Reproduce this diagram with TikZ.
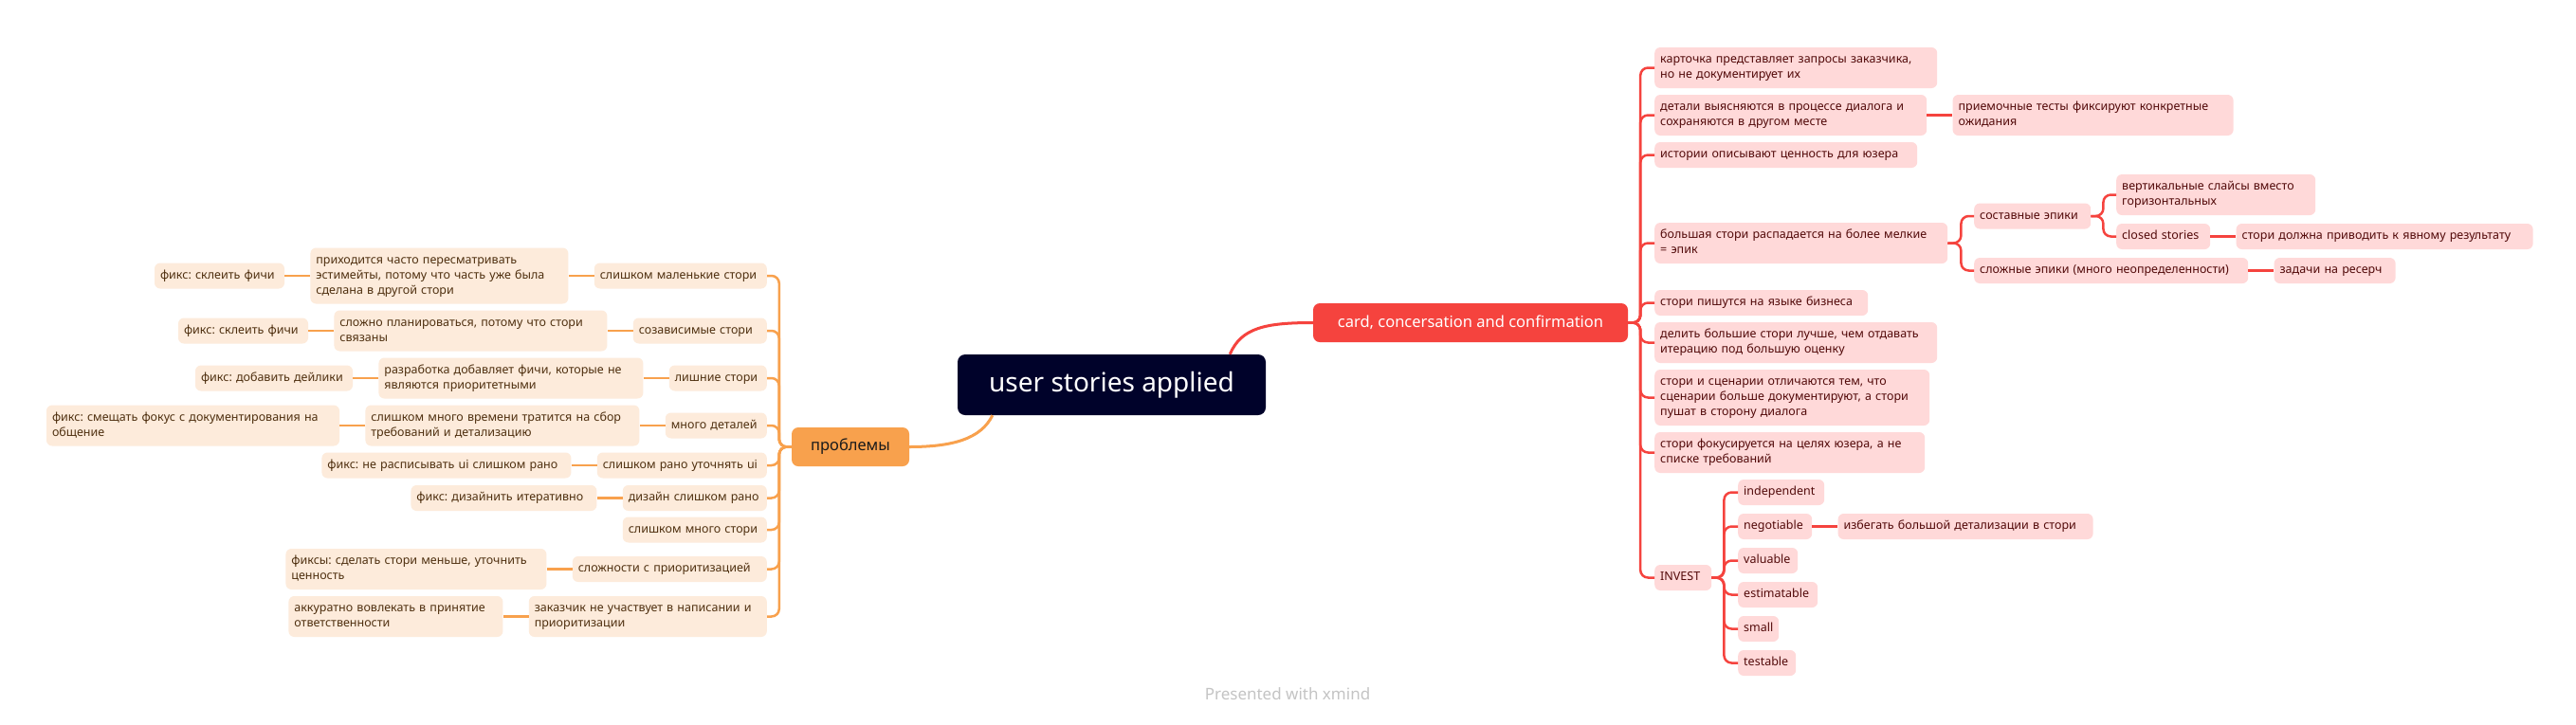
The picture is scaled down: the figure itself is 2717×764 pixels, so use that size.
\documentclass[tikz,border=0pt]{standalone}
\usepackage{fontspec}
\setmainfont{Noto Sans}
\usepackage{tikz}
\usetikzlibrary{positioning}
\frenchspacing
\definecolor{palNavy}{HTML}{00022A}
\definecolor{palRed}{HTML}{F5433E}
\definecolor{palRedLt}{HTML}{FFD9D9}
\definecolor{palRedTxt}{HTML}{520A0A}
\definecolor{palOrange}{HTML}{F8A14D}
\definecolor{palOrangeLt}{HTML}{FDEBDB}
\definecolor{palOrangeTxt}{HTML}{4F3010}
\definecolor{palInk}{HTML}{1B1B1B}
\definecolor{palFoot}{HTML}{C4C4C4}
\tikzset{
  topicnode/.style={rounded corners=6pt, inner xsep=6pt, inner ysep=5.5pt,
                    align=left, font=\fontsize{12.5}{16}\selectfont,
                    execute at begin node=\strut, execute at end node=\strut},
  cardleaf/.style={topicnode, fill=palRedLt, text=palRedTxt, text width=#1},
  probleaf/.style={topicnode, fill=palOrangeLt, text=palOrangeTxt, text width=#1},
  rootnode/.style={fill=palNavy, text=white, rounded corners=8pt,
                   minimum width=325pt, minimum height=64pt,
                   font=\fontsize{28}{34}\selectfont},
  branchnode/.style={rounded corners=7pt, minimum height=41pt,
                     font=\fontsize{16.5}{20}\selectfont},
  redlink/.style={draw=palRed, line width=2.5pt, rounded corners=8pt},
  orangelink/.style={draw=palOrange, line width=2.5pt, rounded corners=8pt},
}
\begin{document}
\begin{tikzpicture}[x=1pt, y=-1pt, node distance=27pt]
\useasboundingbox[fill=white] (0,0) rectangle (2717,764);
\def\xCard{1745}  % left edge of card topics
\def\xEpic{2082}  % left edge of epic topics
\def\xInv{1833}   % left edge of INVEST letters
\def\xProb{809}   % right edge of problem topics

%% Root and main branches
\node[rootnode] (root) at (1172.5,406) {user stories applied};
\node[branchnode, fill=palRed, text=white, minimum width=332pt] (card) at (1551,340.5) {card, concersation and confirmation};
\node[branchnode, fill=palOrange, text=palInk, minimum width=124pt] (prob) at (897,471.5) {проблемы};

%% Card branch
\node[cardleaf=286pt, anchor=west] (c1) at (\xCard,71.5) {карточка представляет запросы заказчика,\\но не документирует их};
\node[cardleaf=275pt, anchor=west] (c2) at (\xCard,121.5) {детали выясняются в процессе диалога и\\сохраняются в другом месте};
\node[cardleaf=284pt, right=of c2] (c2a) {приемочные тесты фиксируют конкретные\\ожидания};
\node[cardleaf=265pt, anchor=west] (c3) at (\xCard,163.5) {истории описывают ценность для юзера};
\node[cardleaf=297pt, anchor=west] (c4) at (\xCard,256.5) {большая стори распадается на более мелкие\\= эпик};
\node[cardleaf=111pt, anchor=west] (e1) at (\xEpic,228) {составные эпики};
\node[cardleaf=198pt, anchor=west] (e1a) at (2232,205.5) {вертикальные слайсы вместо\\горизонтальных};
\node[cardleaf=87pt, anchor=west] (e1b) at (2232,249.5) {closed stories};
\node[cardleaf=301pt, right=of e1b] (e1c) {стори должна приводить к явному результату};
\node[cardleaf=277pt, anchor=west] (e2) at (\xEpic,285.5) {сложные эпики (много неопределенности)};
\node[cardleaf=116pt, right=of e2] (e2a) {задачи на ресерч};
\node[cardleaf=213pt, anchor=west] (c5) at (\xCard,319.5) {стори пишутся на языке бизнеса};
\node[cardleaf=286pt, anchor=west] (c6) at (\xCard,361.5) {делить большие стори лучше, чем отдавать\\итерацию под большую оценку};
\node[cardleaf=278pt, anchor=west] (c7) at (\xCard,419.5) {стори и сценарии отличаются тем, что\\сценарии больше документируют, а стори\\пушат в сторону диалога};
\node[cardleaf=273pt, anchor=west] (c8) at (\xCard,477.5) {стори фокусируется на целях юзера, а не\\списке требований};
\node[cardleaf=48pt, anchor=west] (c9) at (\xCard,609.5) {INVEST};
\node[cardleaf=79pt, anchor=west] (i1) at (\xInv,519.5) {independent};
\node[cardleaf=66pt, anchor=west] (i2) at (\xInv,555.5) {negotiable};
\node[cardleaf=257pt, right=of i2] (i2a) {избегать большой детализации в стори};
\node[cardleaf=51pt, anchor=west] (i3) at (\xInv,591.5) {valuable};
\node[cardleaf=72pt, anchor=west] (i4) at (\xInv,627.5) {estimatable};
\node[cardleaf=31pt, anchor=west] (i5) at (\xInv,663.5) {small};
\node[cardleaf=49pt, anchor=west] (i6) at (\xInv,699.5) {testable};

%% Problems branch
\node[probleaf=170pt, anchor=east] (p1) at (\xProb,291) {слишком маленькие стори};
\node[probleaf=260pt, left=of p1] (p1a) {приходится часто пересматривать\\эстимейты, потому что часть уже была\\сделана в другой стори};
\node[probleaf=125pt, left=of p1a] (p1b) {фикс: склеить фичи};
\node[probleaf=129pt, anchor=east] (p2) at (\xProb,349) {созависимые стори};
\node[probleaf=276pt, left=of p2] (p2a) {сложно планироваться, потому что стори\\связаны};
\node[probleaf=125pt, left=of p2a] (p2b) {фикс: склеить фичи};
\node[probleaf=91pt, anchor=east] (p3) at (\xProb,399) {лишние стори};
\node[probleaf=267pt, left=of p3] (p3a) {разработка добавляет фичи, которые не\\являются приоритетными};
\node[probleaf=154pt, left=of p3a] (p3b) {фикс: добавить дейлики};
\node[probleaf=95pt, anchor=east] (p4) at (\xProb,449) {много деталей};
\node[probleaf=277pt, left=of p4] (p4a) {слишком много времени тратится на сбор\\требований и детализацию};
\node[probleaf=297pt, left=of p4a] (p4b) {фикс: смещать фокус с документирования на\\общение};
\node[probleaf=167pt, anchor=east] (p5) at (\xProb,491) {слишком рано уточнять ui};
\node[probleaf=251pt, left=of p5] (p5a) {фикс: не расписывать ui слишком рано};
\node[probleaf=140pt, anchor=east] (p6) at (\xProb,525.5) {дизайн слишком рано};
\node[probleaf=184pt, left=of p6] (p6a) {фикс: дизайнить итеративно};
\node[probleaf=140pt, anchor=east] (p7) at (\xProb,559) {слишком много стори};
\node[probleaf=193pt, anchor=east] (p8) at (\xProb,600.5) {сложности с приоритизацией};
\node[probleaf=263pt, left=of p8] (p8a) {фиксы: сделать стори меньше, уточнить\\ценность};
\node[probleaf=239pt, anchor=east] (p9) at (\xProb,650.5) {заказчик не участвует в написании и\\приоритизации};
\node[probleaf=214pt, left=of p9] (p9a) {аккуратно вовлекать в принятие\\ответственности};

%% Footer
\node[font=\fontsize{17}{20}\selectfont, text=palFoot] (credit) at (1358,732) {Presented with \textbf{xmind}};

%% Root links
\draw[palRed, line width=3pt] ([xshift=-38pt]root.north east) .. controls +(12,-28) and +(-50,0) .. (card.west);
\draw[palOrange, line width=3pt] ([xshift=37pt]root.south west) .. controls +(-12,25) and +(45,0) .. (prob.east);

%% Card links
\draw[redlink] (card.east) -- ++(13,0) |- (c1.west);
\draw[redlink] (card.east) -- ++(13,0) |- (c2.west);
\draw[redlink] (card.east) -- ++(13,0) |- (c3.west);
\draw[redlink] (card.east) -- ++(13,0) |- (c4.west);
\draw[redlink] (card.east) -- ++(13,0) |- (c5.west);
\draw[redlink] (card.east) -- ++(13,0) |- (c6.west);
\draw[redlink] (card.east) -- ++(13,0) |- (c7.west);
\draw[redlink] (card.east) -- ++(13,0) |- (c8.west);
\draw[redlink] (card.east) -- ++(13,0) |- (c9.west);
\draw[redlink] (c2.east) -- (c2a.west);
\draw[redlink] (c4.east) -- ++(14,0) |- (e1.west);
\draw[redlink] (c4.east) -- ++(14,0) |- (e2.west);
\draw[redlink] (e1.east) -- ++(13,0) |- (e1a.west);
\draw[redlink] (e1.east) -- ++(13,0) |- (e1b.west);
\draw[redlink] (e1b.east) -- (e1c.west);
\draw[redlink] (e2.east) -- (e2a.west);
\draw[redlink] (c9.east) -- ++(13,0) |- (i1.west);
\draw[redlink] (c9.east) -- ++(13,0) |- (i2.west);
\draw[redlink] (c9.east) -- ++(13,0) |- (i3.west);
\draw[redlink] (c9.east) -- ++(13,0) |- (i4.west);
\draw[redlink] (c9.east) -- ++(13,0) |- (i5.west);
\draw[redlink] (c9.east) -- ++(13,0) |- (i6.west);
\draw[redlink] (i2.east) -- (i2a.west);

%% Problem links
\draw[orangelink] (prob.west) -- ++(-13,0) |- (p1.east);
\draw[orangelink] (prob.west) -- ++(-13,0) |- (p2.east);
\draw[orangelink] (prob.west) -- ++(-13,0) |- (p3.east);
\draw[orangelink] (prob.west) -- ++(-13,0) |- (p4.east);
\draw[orangelink] (prob.west) -- ++(-13,0) |- (p5.east);
\draw[orangelink] (prob.west) -- ++(-13,0) |- (p6.east);
\draw[orangelink] (prob.west) -- ++(-13,0) |- (p7.east);
\draw[orangelink] (prob.west) -- ++(-13,0) |- (p8.east);
\draw[orangelink] (prob.west) -- ++(-13,0) |- (p9.east);
\draw[orangelink] (p1.west) -- (p1a.east);
\draw[orangelink] (p1a.west) -- (p1b.east);
\draw[orangelink] (p2.west) -- (p2a.east);
\draw[orangelink] (p2a.west) -- (p2b.east);
\draw[orangelink] (p3.west) -- (p3a.east);
\draw[orangelink] (p3a.west) -- (p3b.east);
\draw[orangelink] (p4.west) -- (p4a.east);
\draw[orangelink] (p4a.west) -- (p4b.east);
\draw[orangelink] (p5.west) -- (p5a.east);
\draw[orangelink] (p6.west) -- (p6a.east);
\draw[orangelink] (p8.west) -- (p8a.east);
\draw[orangelink] (p9.west) -- (p9a.east);
\end{tikzpicture}
\end{document}
